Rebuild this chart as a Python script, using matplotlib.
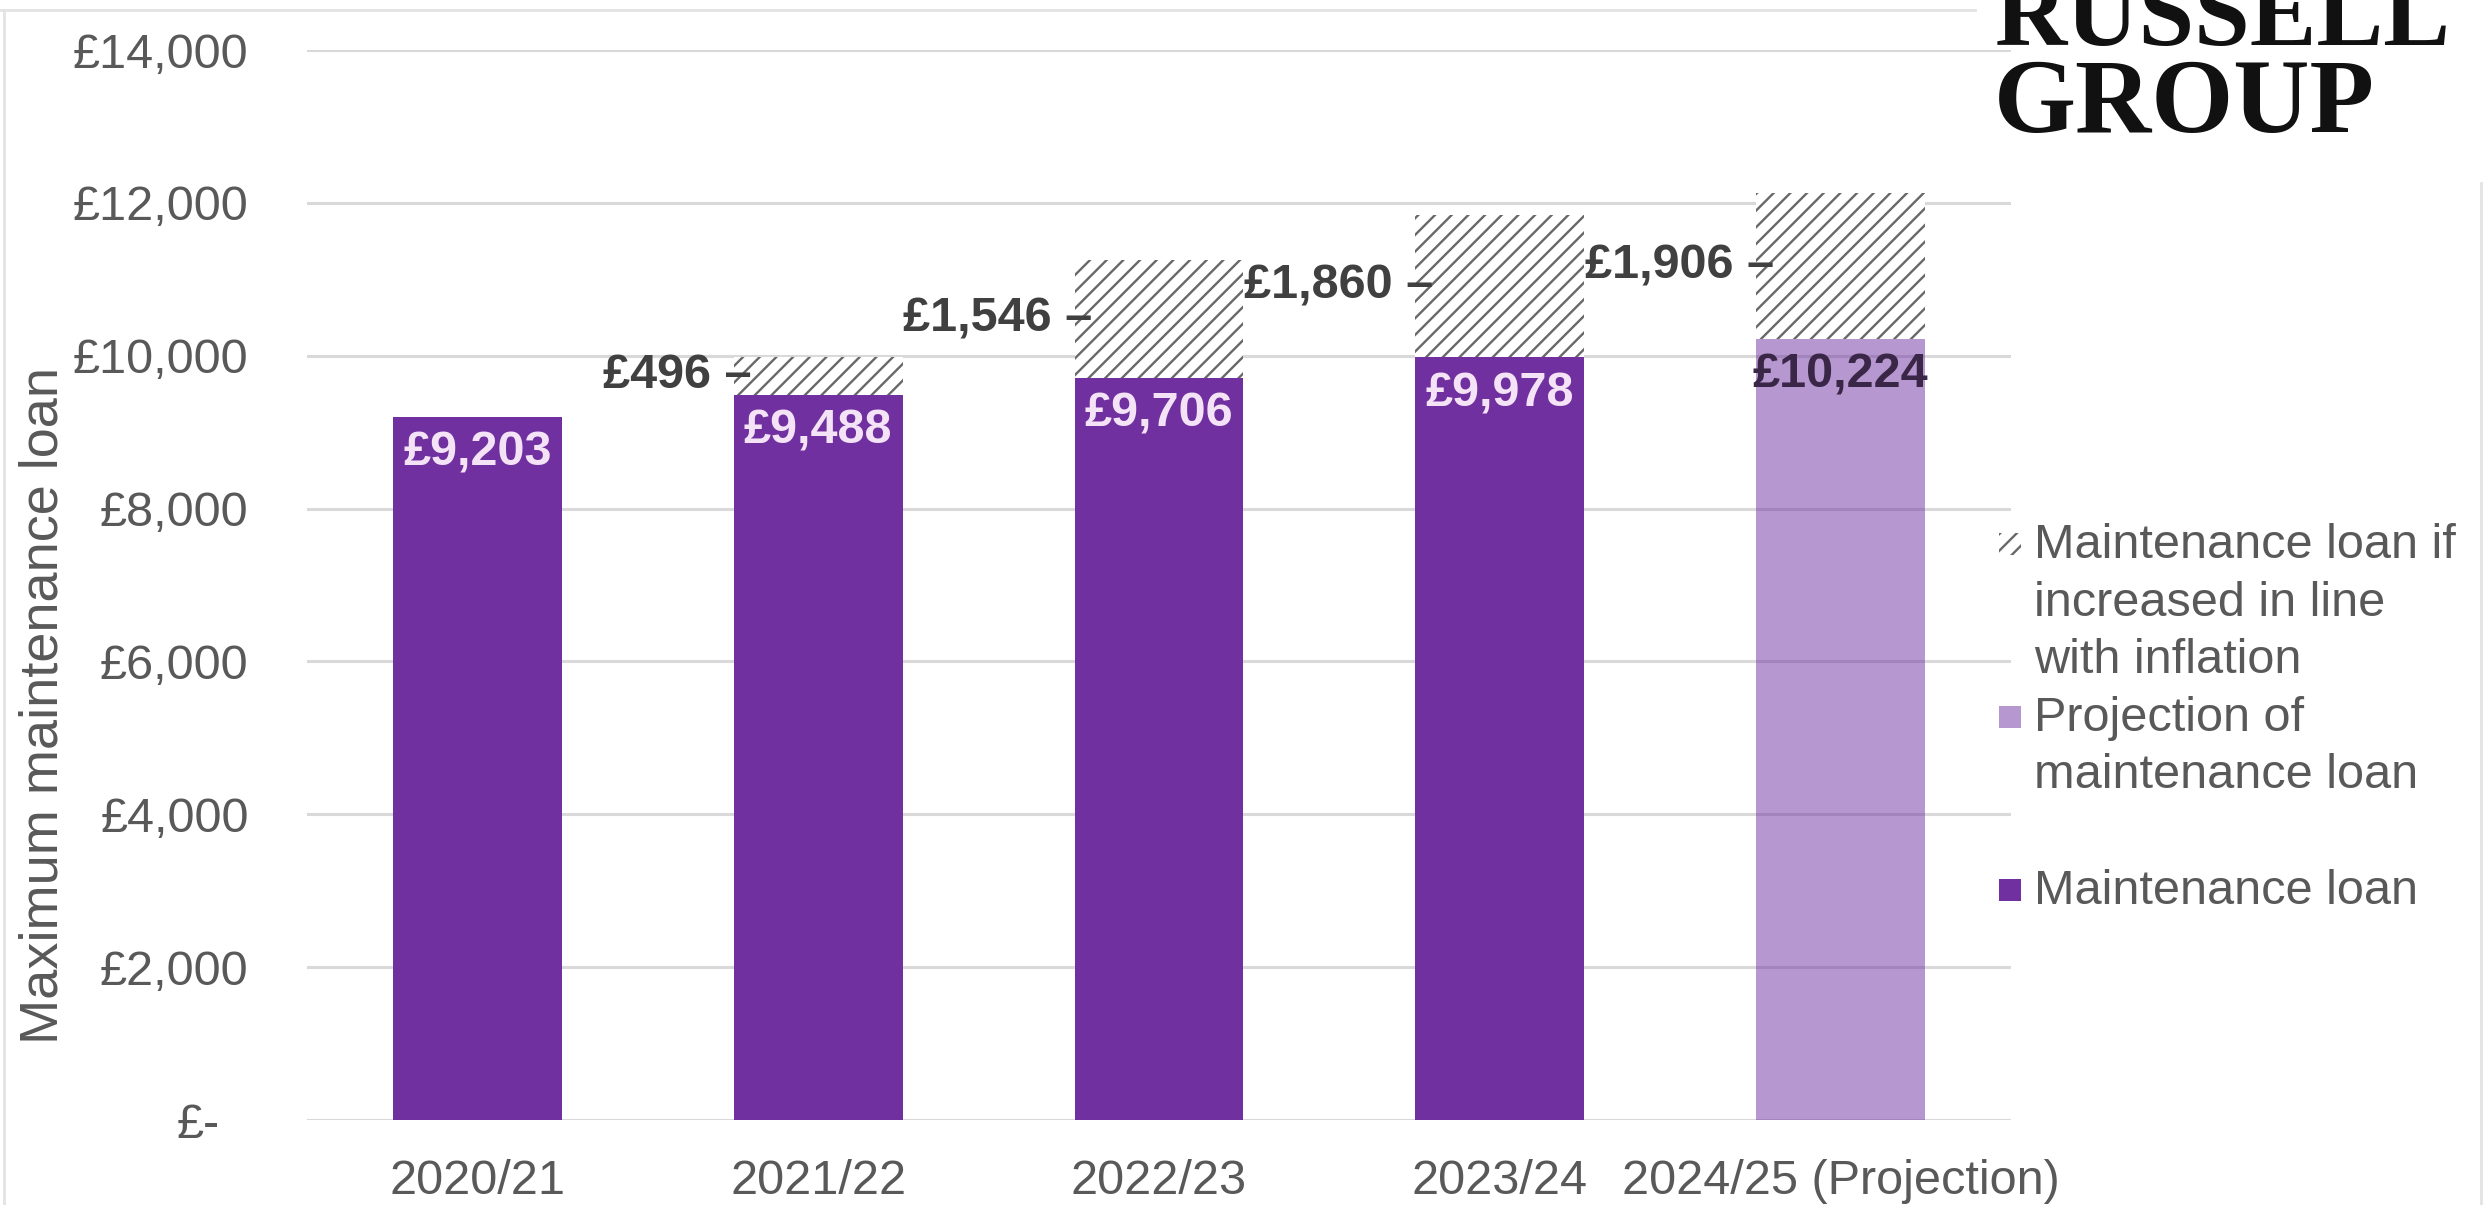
import numpy as np
import matplotlib
matplotlib.use("Agg")
import matplotlib.pyplot as plt
from matplotlib.patches import Rectangle
from matplotlib.lines import Line2D
from matplotlib.transforms import ScaledTranslation

plt.rcParams['font.family'] = ['Liberation Sans', 'DejaVu Sans']
plt.rcParams['hatch.linewidth'] = 1.7

# maximum maintenance loan per academic year (last year is a projection)
years = ["2020/21", "2021/22", "2022/23", "2023/24", "2024/25 (Projection)"]
loan = [9203, 9488, 9706, 9978, 10224]
# shortfall versus a loan that kept pace with inflation
inflation_gap = [0, 496, 1546, 1860, 1906]
is_projection = [False, False, False, False, True]

yticks = [0, 2000, 4000, 6000, 8000, 10000, 12000, 14000]
ytick_labels = ["£-", "£2,000", "£4,000", "£6,000", "£8,000",
                "£10,000", "£12,000", "£14,000"]

legend_entries = [
    ["Maintenance loan if", "increased in line", "with inflation"],
    ["Projection of", "maintenance loan"],
    ["Maintenance loan"],
]

PURPLE = '#7030a0'
HATCH = '#686868'
GREY_TEXT = '#595959'
GRID = '#d9d9d9'

W, H = 2486, 1205
fx = lambda px: px / W
fy = lambda py: 1 - py / H

fig = plt.figure(figsize=(W / 100, H / 100), dpi=100)
ax = fig.add_axes([fx(307), fy(1120), 1704 / W, 1070 / H])

x = np.arange(len(years))
width = 0.495

bars = ax.bar(x, loan, width, color=PURPLE, linewidth=0, zorder=2)
for b, proj in zip(bars, is_projection):
    if proj:
        b.set_alpha(0.5)

ax.bar(x, inflation_gap, width, bottom=loan, facecolor='white',
       edgecolor=HATCH, linewidth=0, hatch='//', zorder=2)

# value labels inside the loan bars
for xi, v, proj in zip(x, loan, is_projection):
    ax.annotate(f"£{v:,}", (xi, v), xytext=(0, -26), textcoords='offset points',
                ha='center', va='center', fontsize=35, fontweight='bold',
                color='#3a2748' if proj else '#f4e2f7', zorder=4)

# shortfall labels to the left of the hatched segments
for xi, v, g in zip(x, loan, inflation_gap):
    if g:
        ax.annotate(f"£{g:,} –", (xi - width / 2, v + g / 2), xytext=(13, 0),
                    textcoords='offset points', ha='right', va='center',
                    fontsize=35, fontweight='bold', color='#404040', zorder=4)

ax.set_xlim(-0.5, len(years) - 0.5)
ax.set_ylim(0, 14000)
ax.set_yticks(yticks)
ax.set_yticklabels(ytick_labels)
ax.set_xticks(x)
ax.set_xticklabels(years)
ax.yaxis.grid(True, color=GRID, linewidth=2.2)
ax.set_axisbelow(True)
for s in ax.spines.values():
    s.set_visible(False)
ax.tick_params(axis='y', length=0, pad=42, labelsize=35, labelcolor=GREY_TEXT)
ax.tick_params(axis='x', length=0, pad=28, labelsize=35, labelcolor=GREY_TEXT)

zero_lab = ax.get_yticklabels()[0]
zero_lab.set_transform(zero_lab.get_transform()
                       + ScaledTranslation(-0.29, 0, fig.dpi_scale_trans))

fig.text(fx(44), fy(706), "Maximum maintenance loan", rotation=90,
         ha='center', va='center', fontsize=39, color=GREY_TEXT)

# legend, built by hand so the keys sit on the first line of each entry
first_baselines = [558, 731, 904]
line_step = 57.5
key_styles = [
    dict(facecolor='white', edgecolor=HATCH, linewidth=0, hatch='//'),
    dict(facecolor=PURPLE, alpha=0.5, linewidth=0),
    dict(facecolor=PURPLE, linewidth=0),
]
for lines, base, style in zip(legend_entries, first_baselines, key_styles):
    key = 22
    fig.patches.append(Rectangle((fx(1999), fy(base - 14 + key / 2)), key / W, key / H,
                                 transform=fig.transFigure, **style))
    for k, line in enumerate(lines):
        fig.text(fx(2034), fy(base + k * line_step), line, ha='left',
                 va='baseline', fontsize=35, color=GREY_TEXT)

# logo in the top right corner
fig.text(fx(1994), fy(45), "RUSSELL", ha='left', va='baseline',
         family='Liberation Serif', fontweight='bold', fontsize=72, color='#111111')
fig.text(fx(1994), fy(132), "GROUP", ha='left', va='baseline',
         family='Liberation Serif', fontweight='bold', fontsize=76, color='#111111')

# faint frame around the chart area
frame = dict(transform=fig.transFigure, color='#e3e3e3', linewidth=2)
fig.add_artist(Line2D([fx(0), fx(1975)], [fy(10), fy(10)], **frame))
fig.add_artist(Line2D([fx(4), fx(4)], [fy(10), fy(1205)], **frame))
fig.add_artist(Line2D([fx(2481), fx(2481)], [fy(183), fy(1205)], **frame))

fig.savefig("out.png", dpi=100)
